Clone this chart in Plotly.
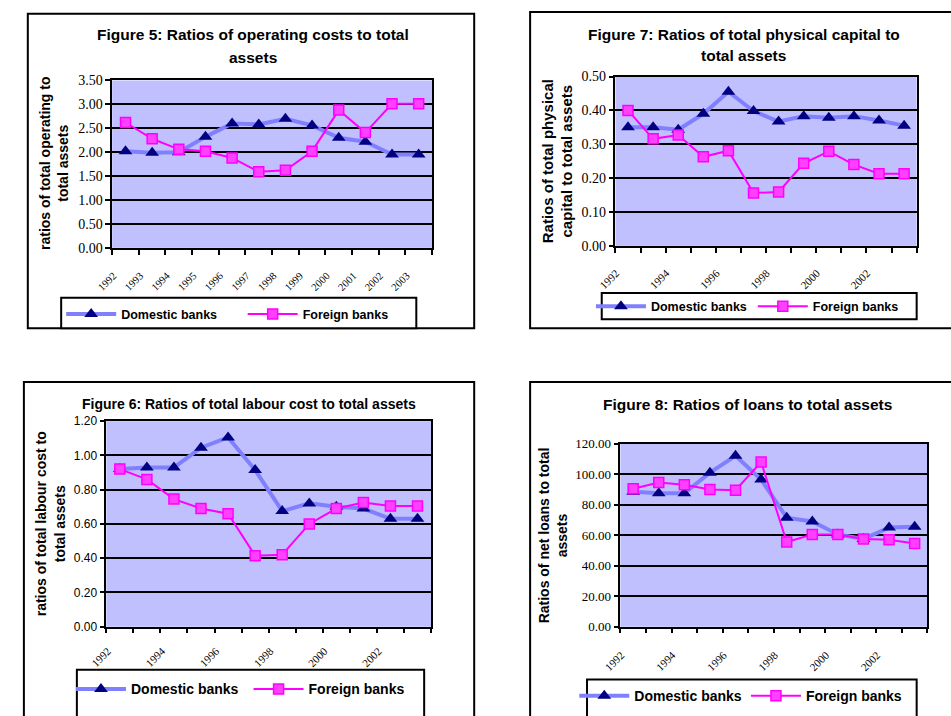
import plotly.graph_objects as go

W, H = 951, 716

years = [1992, 1993, 1994, 1995, 1996, 1997, 1998, 1999, 2000, 2001, 2002, 2003]
year_labels_all = [str(y) for y in years]
year_labels_alt = ["1992", "1994", "1996", "1998", "2000", "2002"]

fig5_domestic = [2.02, 1.99, 2.00, 2.32, 2.60, 2.58, 2.70, 2.56, 2.30, 2.22, 1.95, 1.95]
fig5_foreign = [2.62, 2.28, 2.06, 2.02, 1.88, 1.59, 1.62, 2.02, 2.88, 2.41, 3.01, 3.01]

fig7_domestic = [0.350, 0.350, 0.343, 0.390, 0.455, 0.398, 0.367, 0.383, 0.378, 0.383, 0.370, 0.355]
fig7_foreign = [0.400, 0.316, 0.327, 0.263, 0.281, 0.156, 0.159, 0.244, 0.279, 0.240, 0.213, 0.213]

fig6_domestic = [0.92, 0.93, 0.93, 1.045, 1.105, 0.915, 0.675, 0.72, 0.70, 0.69, 0.63, 0.63]
fig6_foreign = [0.92, 0.86, 0.745, 0.69, 0.66, 0.415, 0.42, 0.60, 0.69, 0.725, 0.705, 0.705]

fig8_domestic = [88.5, 87.5, 87.5, 101, 112, 96.5, 71.5, 69, 60.5, 57.5, 65, 65.5]
fig8_foreign = [90.5, 94.5, 93, 90, 89.5, 108, 55.5, 60.5, 60.5, 57.5, 57, 54.5]

series_names = ["Domestic banks", "Foreign banks"]


def X(px):
    return px / W


def Y(py):
    return 1 - py / H


SANS = "Liberation Sans, Arial, sans-serif"
SERIF = "Liberation Serif, Times New Roman, serif"
DOM_LINE = "#8080FF"
DOM_MARK = "#000080"
MAG = "#FF00FF"
BG = "#C0C0FF"

panels = [
    dict(n="", dom=fig5_domestic, fr=fig5_foreign, box=(96, 422, 75, 246), yr=3.5, dt=0.5,
         tfont=dict(family=SERIF, size=14, color="black"), xl=year_labels_all, xfs=10.5, so=16),
    dict(n="2", dom=fig7_domestic, fr=fig7_foreign, box=(609, 916, 71, 244), yr=0.5, dt=0.1,
         tfont=dict(family=SERIF, size=14, color="black"), xl=year_labels_alt, xfs=11, so=15),
    dict(n="3", dom=fig6_domestic, fr=fig6_foreign, box=(90, 421, 423, 633), yr=1.2, dt=0.2,
         tfont=dict(family=SANS, size=12, color="black"), xl=year_labels_alt, xfs=11, so=12),
    dict(n="4", dom=fig8_domestic, fr=fig8_foreign, box=(614, 927, 446, 633), yr=120, dt=20,
         tfont=dict(family=SERIF, size=13, color="black"), xl=year_labels_alt, xfs=11, so=16),
]

# legend placements: (text start px, center y px, font size)
legend_pos = [
    [(113, 314, 12.5), (298, 314, 12.5)],
    [(653, 306, 12.5), (818, 306, 12.5)],
    [(123, 697, 14), (304, 697, 14)],
    [(636, 704, 14), (811, 704, 14)],
]

fig = go.Figure()
layout = dict(
    width=W, height=H, autosize=False,
    margin=dict(l=0, r=0, t=0, b=0, pad=0),
    paper_bgcolor="white",
    plot_bgcolor=BG,
    showlegend=True,
)

leg_idx = 1
for i, p in enumerate(panels):
    n = p["n"]
    xa = "x" + n
    ya = "y" + n
    l, r, t, b = p["box"]
    lg_dom = "legend" if leg_idx == 1 else f"legend{leg_idx}"
    lg_for = f"legend{leg_idx + 1}"
    fig.add_trace(go.Scatter(
        x=years, y=p["dom"], name=series_names[0], mode="lines+markers",
        line=dict(color=DOM_LINE, width=4),
        marker=dict(symbol="triangle-up", size=12, color=DOM_MARK),
        xaxis=xa, yaxis=ya, legend=lg_dom))
    fig.add_trace(go.Scatter(
        x=years, y=p["fr"], name=series_names[1], mode="lines+markers",
        line=dict(color=MAG, width=2),
        marker=dict(symbol="square", size=10, color="#FF40FF", line=dict(color=MAG, width=1.5)),
        xaxis=xa, yaxis=ya, legend=lg_for))
    for k, (tx, ly, fs) in enumerate(legend_pos[i]):
        key = lg_dom if k == 0 else lg_for
        layout[key] = dict(
            x=X(tx - 69), y=Y(ly), xanchor="left", yanchor="middle",
            bgcolor="rgba(0,0,0,0)", borderwidth=0, itemwidth=50,
            font=dict(family=SANS, size=fs, color="black", weight="bold"),
        )
    leg_idx += 2

    layout["xaxis" + n] = dict(
        domain=[X(l), X(r)], anchor=ya, range=[1991.5, 2003.5],
        tickmode="array", tickvals=[int(v) for v in p["xl"]], ticktext=p["xl"],
        tickangle=-45, ticks="", showgrid=False, zeroline=False,
        ticklabelstandoff=p["so"], ticklabelshift=-12,
        showline=True, linecolor="black", linewidth=1.5, mirror=True,
        tickfont=dict(family=SERIF, size=p["xfs"], color="black"),
        minor=dict(ticks="outside", ticklen=5, tickcolor="black", tickwidth=1.5,
                   tick0=1991.5, dtick=1, showgrid=False),
    )
    layout["yaxis" + n] = dict(
        domain=[Y(b), Y(t)], anchor=xa, range=[0, p["yr"]],
        tickmode="linear", tick0=0, dtick=p["dt"], tickformat=".2f",
        ticks="outside", ticklen=5, tickcolor="black", tickwidth=1.5,
        showgrid=True, gridcolor="black", gridwidth=1.5, zeroline=False,
        showline=True, linecolor="black", linewidth=1.5, mirror=True,
        tickfont=p["tfont"],
    )

fig.update_layout(**layout)

shapes = []
frames = [(10, 465, 7, 328), (522, 960, 5, 328), (6, 465, 383, 730), (522, 960, 383, 730)]
for (l, r, t, b) in frames:
    shapes.append(dict(type="rect", xref="paper", yref="paper", x0=X(l), x1=X(r), y0=Y(b), y1=Y(t),
                       line=dict(color="black", width=2), fillcolor="rgba(0,0,0,0)", layer="below"))
legend_boxes = [(44, 406, 297, 328), (595, 916, 292, 319), (60, 414, 677, 730), (580, 916, 687, 730)]
for (l, r, t, b) in legend_boxes:
    shapes.append(dict(type="rect", xref="paper", yref="paper", x0=X(l), x1=X(r), y0=Y(b), y1=Y(t),
                       line=dict(color="black", width=2), fillcolor="white", layer="below"))
fig.update_layout(shapes=shapes)

annotations = []


def ann(text, x, y, size, angle=0):
    annotations.append(dict(text=text, x=X(x), y=Y(y), xref="paper", yref="paper",
                            xanchor="center", yanchor="middle", showarrow=False,
                            textangle=angle, font=dict(family=SANS, size=size, color="black")))


ann("<b>Figure 5: Ratios of operating costs to total</b>", 240, 28, 15.5)
ann("<b>assets</b>", 240, 52, 15.5)
ann("<b>Figure 7: Ratios of total physical capital to</b>", 740, 28, 15.5)
ann("<b>total assets</b>", 740, 50, 15.5)
ann("<b>Figure 6: Ratios of total labour cost to total assets</b>", 235, 405, 14)
ann("<b>Figure 8: Ratios of loans to total assets</b>", 744, 406, 15.5)

ann("<b>ratios of total operating to<br>total assets</b>", 36, 160, 14, -90)
ann("<b>Ratios of total physical<br>capital to total assets</b>", 550, 158, 15, -90)
ann("<b>ratios of total labour cost to<br>total assets</b>", 33, 528, 14, -90)
ann("<b>Ratios of net loans to total<br>assets</b>", 545, 540, 14, -90)

fig.update_layout(annotations=annotations)

fig.write_html(
    "out.html",
    config={"displayModeBar": False},
    post_script="document.body.style.margin='0';document.body.style.overflow='hidden';",
)
